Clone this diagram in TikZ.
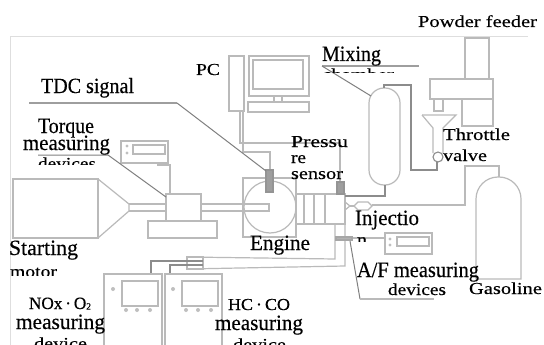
\documentclass[tikz,border=0pt]{standalone}
\usepackage{fontspec}
\setmainfont[FakeBold=0.35]{Liberation Serif}
\newcommand{\fitw}[2]{\resizebox{#1pt}{\totalheight}{\fontsize{16.5}{18}\selectfont #2}}
% label: name, left x, baseline y, width, text
\newcommand{\lbl}[5]{\node[lab] (#1) at (#2,#3) {\fitw{#4}{#5}};}
% box: name, x1, y1, x2, y2
\newcommand{\bx}[6][]{\path (#3,#4) coordinate (#2-a) (#5,#6) coordinate (#2-b);
  \draw[ln,#1] (#2-a) rectangle (#2-b);}
\tikzset{
  lab/.style={anchor=base west,inner sep=0pt,outer sep=0pt,text=black},
  ln/.style={draw=black!27,line width=1.2pt},
  dk/.style={draw=black!45,line width=1.1pt},
  lead/.style={draw=black!50,line width=1pt},
  lead2/.style={draw=black!38,line width=2pt},
  dot/.style={fill=black!25,draw=none},
  frameln/.style={draw=black!13,line width=1pt}
}
\begin{document}
\begin{tikzpicture}[x=1pt,y=-1pt]
\useasboundingbox (0,0) rectangle (544,345);
\fill[white] (0,0) rectangle (544,345);
% named free ends
\coordinate (tdcA) at (29,103); \coordinate (tdcB) at (177,103); \coordinate (tdcC) at (266,171);
\coordinate (trqA) at (38,155); \coordinate (trqB) at (108,155); \coordinate (trqC) at (166,197);
\coordinate (mixA) at (322,66); \coordinate (mixB) at (419,66); \coordinate (mixC) at (371,96);
\coordinate (afA) at (350,241); \coordinate (afB) at (360,299); \coordinate (afC) at (434,299);
% frame
\draw[frameln] (10,345) -- (10,37) -- (528,37);
% PC
\bx{tower}{229}{56}{244}{111}
\bx{mon}{249}{56}{309}{96}
\bx{scr}{253}{60}{303}{89}
\bx{neck}{274}{96}{282}{102}
\bx{kbd}{248}{102}{309}{112}
\draw[ln] (240,111) -- (240,143) -- (340,143) -- (340,182);
\draw[ln] (243,111) -- (243,152) -- (270,152) -- (270,170);
% starting motor
\bx{motor}{13}{179}{98}{238}
\draw[ln] (98,179) -- (129,204) -- (129,211) -- (98,238);
\draw[ln] (129,204) -- (166,204) (129,211) -- (166,211);
\bx{dyno}{166}{194}{201}{221}
\bx{base}{148}{221}{217}{238}
\draw[ln] (201,204) -- (269,204) -- (269,211) -- (201,211);
% torque device
\bx{tq}{121}{141}{168}{163}
\bx{tqs}{133}{145}{165}{154}
\fill[dot] (127,146) circle (1.6) (127,153) circle (1.6);
\draw[ln] (158,163) -- (158,165) -- (170,165) -- (170,194);
% engine
\bx{eng}{243}{178}{296}{237}
\draw[ln] (270,207) circle (26);
\draw[ln] (243,204) -- (269,204) -- (269,211) -- (243,211);
\bx[fill=black!38,draw=black!42]{tdcs}{266}{170}{273}{192}
\bx{block}{296}{194}{345}{224}
\draw[ln] (304,194) -- (304,224) (314,194) -- (314,224) (325,194) -- (325,224);
\bx[fill=black!38,draw=black!42]{prs}{337}{182}{344}{194}
\draw[ln] (335,224) -- (335,259) -- (187,257);
\draw[ln] (345,224) -- (345,266) -- (187,269);
% injector
\draw[ln] (345,202) -- (350,206) -- (345,210);
\draw[ln] (354,206) -- (358,202) -- (368,202) -- (372,206) -- (368,210) -- (358,210) -- cycle;
\draw[ln] (350,206) -- (354,206);
\draw[ln] (372,205) -- (465,205) -- (465,166) -- (499,166) -- (499,177);
% mixing chamber
\draw[ln,rounded corners=15pt] (369,88) rectangle (400,185);
\draw[dk] (385,185) -- (385,196) -- (345,196);
\draw[dk] (384,88) -- (384,85) -- (411,85) -- (411,170) -- (437,170) -- (437,162);
% throttle and funnel
\draw[ln] (422,115) -- (456,115) -- (443,128) -- (443,153);
\draw[ln] (422,115) -- (433,128) -- (433,153);
\draw[dk,fill=white] (438,157) circle (5);
% powder feeder
\bx{pf1}{465}{38}{489}{79}
\bx{pf2}{430}{79}{493}{99}
\bx{pf3}{462}{99}{493}{126}
\draw[ln] (434,100) -- (434,111) -- (443,111) -- (443,100);
% gasoline
\draw[ln] (476,279) [rounded corners=22pt] -- (476,177) -- (521,177) [sharp corners] -- (521,279) -- cycle;
% A/F device
\bx{af}{385}{233}{432}{254}
\bx{afs}{397}{237}{429}{246}
\fill[dot] (390,239) circle (1.6) (390,245) circle (1.6);
\draw[ln] (352,238) -- (385,238);
\bx[fill=black!30,draw=black!35]{afp}{336}{237}{352}{240}
% gas analysers
\bx{nox}{104}{274}{162}{346}
\bx{noxs}{122}{281}{158}{306}
\bx{hc}{165}{274}{222}{346}
\bx{hcs}{182}{281}{218}{306}
\fill[dot] (113,289) circle (2) (173,289) circle (2);
\fill[dot] (126,310) circle (2) (137,310) circle (2) (150,310) circle (2);
\fill[dot] (186,310) circle (2) (198,310) circle (2) (211,310) circle (2);
\bx{conn}{187}{257}{203}{269}
\draw[dk] (151,273) -- (151,261) -- (203,261);
\draw[dk] (170,273) -- (170,265) -- (203,265);
% leaders
\draw[lead2] (tdcA) -- (tdcB);
\draw[lead] (tdcB) -- (tdcC);
\draw[lead] (trqA) -- (trqB) -- (trqC);
\draw[lead2] (mixA) -- (mixB);
\draw[lead] (mixA) -- (mixC);
\draw[lead] (afA) -- (afB); \draw[ln] (afB) -- (afC);
% labels
\lbl{powder}{418}{27}{119}{Powder feeder}
\lbl{pc}{196}{75}{24}{PC}
\lbl{tdc}{41}{93}{93}{TDC signal}
\lbl{torque}{38}{133}{56}{Torque}
\lbl{meas1}{23}{150}{87}{measuring}
\begin{scope}\clip (0,0) rectangle (544,164.5); \lbl{dev1}{38}{169}{58}{devices}\end{scope}
\lbl{start}{9}{255}{69}{Starting}
\begin{scope}\clip (0,0) rectangle (544,275); \lbl{mot}{10}{277}{47}{motor}\end{scope}
\lbl{nox1}{29}{309}{62}{NOx\,·\,O\raisebox{-.5pt}{\fontsize{9}{9}\selectfont 2}}
\lbl{meas2}{16}{329}{89}{measuring}
\lbl{dev2}{34}{349}{53}{device}
\lbl{hc1}{228}{310}{62}{HC\,·\,CO}
\lbl{meas3}{215}{330}{88}{measuring}
\lbl{dev3}{233}{350}{53}{device}
\lbl{mix}{322}{61}{59}{Mixing}
\begin{scope}\clip (0,67) rectangle (544,72.5); \lbl{chm}{322}{80}{72}{chamber}\end{scope}
\begin{scope}\clip (0,136.5) rectangle (544,345); \lbl{pres}{291}{147}{57}{Pressu}\end{scope}
\lbl{pres2}{291}{163}{15}{re}
\lbl{pres3}{291}{179}{52}{sensor}
\lbl{thr}{443}{140}{67}{Throttle}
\lbl{val}{443}{161}{44}{valve}
\lbl{eng}{250}{250}{60}{Engine}
\lbl{inj}{355}{225}{64}{Injectio}
\begin{scope}\clip (0,200) rectangle (544,241.5); \lbl{inj2}{357}{245}{10}{n}\end{scope}
\lbl{af1}{357}{277}{122}{A/F measuring}
\lbl{af2}{388}{295}{58}{devices}
\lbl{gas}{469}{294}{73}{Gasoline}
\end{tikzpicture}
\end{document}
